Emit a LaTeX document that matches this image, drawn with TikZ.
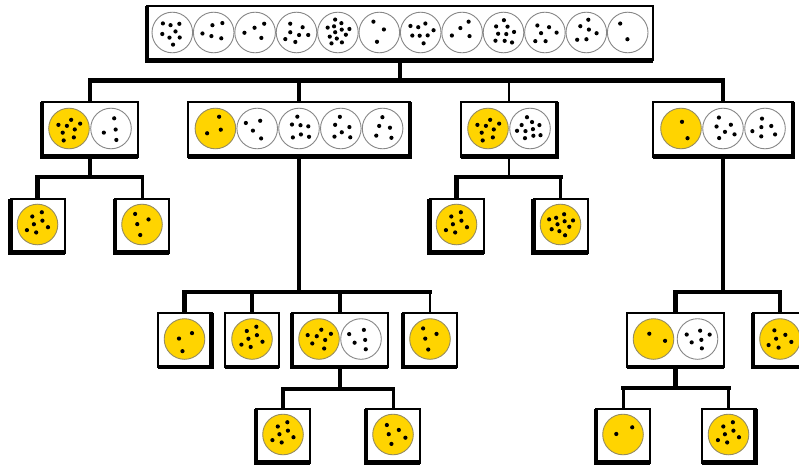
\documentclass[tikz,border=0pt]{standalone}
\usetikzlibrary{calc}
\definecolor{Yfill}{RGB}{255,212,0}
\definecolor{Yline}{RGB}{150,140,95}
\definecolor{Wfill}{RGB}{255,255,255}
\definecolor{Wline}{RGB}{135,135,135}
\tikzset{
  box/.style={draw, line width=2, fill=white, inner sep=0, outer sep=0,
              minimum height=54, minimum width=#1},
  heavy/.style={line width=4.4},
  light/.style={line width=2.4},
  mid/.style={line width=3},
  bus/.style={line width=4.4, line cap=rect},
  rim/.style={line width=4.6, line join=miter},
}
% one dish at (cc): colour key (Y or W), number of spots, seed for the spot pattern
\newcommand\disc[3]{%
  \edef\dkey{#1}%
  \filldraw[fill=\dkey fill, draw=\dkey line, line width=0.9] (cc) circle (20.3);
  \foreach \k in {1,...,#2}{
    \pgfmathsetmacro\ang{\k*137.5+(#3)*47}
    \pgfmathsetmacro\rad{13.5*sqrt((\k-0.5)/#2)}
    \fill (cc) ++(\ang:\rad) circle (2.1);
  }}
% a row of dishes centred in a box: node, count, pitch, list kind/spots
\newcommand\fillrow[4]{%
  \foreach [count=\i from 0] \kind/\num in {#4}{
    \path (#1.center) ++({(\i-(#2-1)/2)*#3},-1) coordinate (cc);
    \disc{\kind}{\num}{\i*3+#2}
  }}
% heavy edges giving the boxes their raised look
\newcommand\rimL[1]{\draw[rim] (#1.north west) -- (#1.south west) -- (#1.south east);}
\newcommand\rimR[1]{\draw[rim] (#1.south west) -- (#1.south east) -- (#1.north east);}
\newcommand\rimN[1]{\draw[rim] (#1.south west) -- (#1.south east);}

\begin{document}
\begin{tikzpicture}[x=1pt,y=-1pt]
\useasboundingbox (0,0) rectangle (799,468);

% boxes
\node[box=506] (top) at (400,33.5) {};
\node[box=96]  (b1) at (90,129.5) {};
\node[box=222] (b2) at (299,129.5) {};
\node[box=96]  (b3) at (509,129.5) {};
\node[box=140] (b4) at (723,129.5) {};
\node[box=54]  (b1a) at (37.5,225.5) {};
\node[box=54]  (b1b) at (142,225.5) {};
\node[box=54]  (b3a) at (456.5,225.5) {};
\node[box=54]  (b3b) at (560.5,225.5) {};
\node[box=54]  (b2a) at (184.5,340) {};
\node[box=54]  (b2b) at (252,340) {};
\node[box=96]  (b2c) at (340,340) {};
\node[box=54]  (b2d) at (430,340) {};
\node[box=97]  (b4a) at (675.5,340) {};
\node[box=54]  (b4b) at (780,340) {};
\node[box=54]  (b2ca) at (283,435.5) {};
\node[box=54]  (b2cb) at (393,435.5) {};
\node[box=54]  (b4aa) at (623,435.5) {};
\node[box=54]  (b4ab) at (728.5,435.5) {};

% junctions
\path (top.south) ++(0,20) coordinate (j0);
\path (b1.south) ++(0,20.5) coordinate (j1);
\path (b3.south) ++(0,20.5) coordinate (j3);
\path (b2.south) ++(0,135.5) coordinate (j2);
\path (b4.south) ++(0,135.5) coordinate (j4);
\path (b2c.south) ++(0,22) coordinate (j5);
\path (b4a.south) ++(0,21) coordinate (j6);

% connectors
\draw[heavy] (top.south) -- (j0);
\draw[bus] (b1.north |- j0) -- (b4.north |- j0);
\draw[heavy] (b1.north |- j0) -- (b1.north);
\draw[heavy] (b2.north |- j0) -- (b2.north);
\draw[light] (b3.north |- j0) -- (b3.north);
\draw[heavy] (b4.north |- j0) -- (b4.north);

\draw[heavy] (b1.south) -- (j1);
\draw[bus] (b1a.north |- j1) -- (b1b.north |- j1);
\draw[heavy] (b1a.north |- j1) -- (b1a.north);
\draw[mid] (b1b.north |- j1) -- (b1b.north);

\draw[light] (b3.south) -- (j3);
\draw[bus] (b3a.north |- j3) -- (b3b.north |- j3);
\draw[heavy] (b3a.north |- j3) -- (b3a.north);
\draw[mid] (b3b.north |- j3) -- (b3b.north);

\draw[heavy] (b2.south) -- (j2);
\draw[bus] (b2a.north |- j2) -- (b2d.north |- j2);
\draw[heavy] (b2a.north |- j2) -- (b2a.north);
\draw[heavy] (b2b.north |- j2) -- (b2b.north);
\draw[heavy] (b2c.north |- j2) -- (b2c.north);
\draw[light] (b2d.north |- j2) -- (b2d.north);

\draw[heavy] (b4.south) -- (j4);
\draw[bus] (b4a.north |- j4) -- (b4b.north |- j4);
\draw[heavy] (b4a.north |- j4) -- (b4a.north);
\draw[heavy] (b4b.north |- j4) -- (b4b.north);

\draw[heavy] (b2c.south) -- (j5);
\draw[bus] (b2ca.north |- j5) -- (b2cb.north |- j5);
\draw[heavy] (b2ca.north |- j5) -- (b2ca.north);
\draw[mid] (b2cb.north |- j5) -- (b2cb.north);

\draw[heavy] (b4a.south) -- (j6);
\draw[bus] (b4aa.north |- j6) -- (b4ab.north |- j6);
\draw[mid] (b4aa.north |- j6) -- (b4aa.north);
\draw[mid] (b4ab.north |- j6) -- (b4ab.north);

% raised edges
\rimL{top} \rimL{b1} \rimR{b2} \rimR{b3} \rimR{b4}
\rimL{b1a} \rimL{b1b} \rimL{b3a} \rimL{b3b}
\rimR{b2a} \rimN{b2b} \rimL{b2c} \rimL{b2d} \rimN{b4a} \rimL{b4b}
\rimL{b2ca} \rimL{b2cb} \rimL{b4aa} \rimR{b4ab}

% dishes
\fillrow{top}{12}{41.4}{W/8,W/5,W/4,W/7,W/12,W/3,W/8,W/4,W/9,W/6,W/6,W/2}
\fillrow{b1}{2}{42}{Y/8,W/4}
\fillrow{b2}{5}{41.8}{Y/3,W/4,W/7,W/6,W/5}
\fillrow{b3}{2}{42}{Y/8,W/10}
\fillrow{b4}{3}{42}{Y/2,W/6,W/6}
\fillrow{b1a}{1}{42}{Y/7}
\fillrow{b1b}{1}{42}{Y/4}
\fillrow{b3a}{1}{42}{Y/7}
\fillrow{b3b}{1}{42}{Y/10}
\fillrow{b2a}{1}{42}{Y/3}
\fillrow{b2b}{1}{42}{Y/7}
\fillrow{b2c}{2}{42}{Y/7,W/5}
\fillrow{b2d}{1}{42}{Y/4}
\fillrow{b4a}{2}{44}{Y/2,W/6}
\fillrow{b4b}{1}{42}{Y/6}
\fillrow{b2ca}{1}{42}{Y/7}
\fillrow{b2cb}{1}{42}{Y/5}
\fillrow{b4aa}{1}{42}{Y/2}
\fillrow{b4ab}{1}{42}{Y/7}
\end{tikzpicture}
\end{document}
